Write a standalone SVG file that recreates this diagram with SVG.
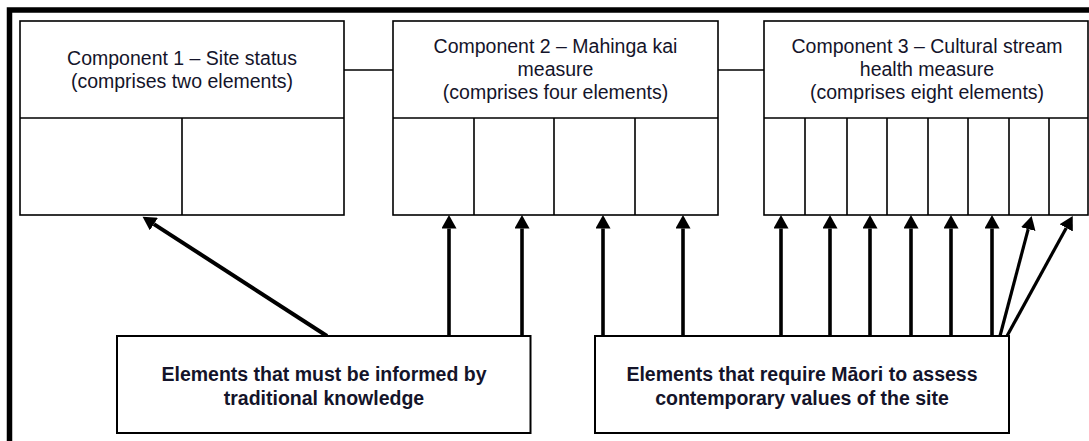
<svg xmlns="http://www.w3.org/2000/svg" width="1089" height="441" viewBox="0 0 1089 441">
  <style>
    .box { fill: #ffffff; stroke: #000000; stroke-width: 1.6; }
    .div { stroke: #000000; stroke-width: 1.6; fill: none; }
    .t { font-family: "Liberation Sans", Arial, sans-serif; font-size: 19.5px; fill: #14142a; text-anchor: middle; }
    .tb { font-family: "Liberation Sans", Arial, sans-serif; font-size: 19.5px; font-weight: bold; fill: #14142a; text-anchor: middle; }
    .arr { stroke: #000000; stroke-width: 3.6; fill: none; marker-end: url(#ah); }
    .link { stroke: #000000; stroke-width: 1.6; fill: none; }
  </style>
  <defs>
    <marker id="ah" markerUnits="userSpaceOnUse" markerWidth="14" markerHeight="15" refX="0" refY="7.5" orient="auto">
      <path d="M0,0 L13.5,7.5 L0,15 Z" fill="#000000"/>
    </marker>
  </defs>
  <rect width="1089" height="441" fill="#ffffff"/>
  <path d="M9.5,441 V10 H1089" fill="none" stroke="#000000" stroke-width="5.5"/>

  <g id="connectors">
    <path class="link" d="M344,70 H393"/>
    <path class="link" d="M718,70 H764"/>
    <path class="arr" style="stroke-width:4" d="M327,336 L153.9,224.1"/>
    <path class="arr" d="M449,336 V228.5"/>
    <path class="arr" d="M522,336 V228.5"/>
    <path class="arr" d="M603,336 V228.5"/>
    <path class="arr" d="M683,336 V228.5"/>
    <path class="arr" d="M781,336 V228.5"/>
    <path class="arr" d="M830,336 V228.5"/>
    <path class="arr" d="M870,336 V228.5"/>
    <path class="arr" d="M911,336 V228.5"/>
    <path class="arr" d="M951,336 V228.5"/>
    <path class="arr" d="M992,336 V228.5"/>
    <path class="arr" style="stroke-width:3.2" d="M1000,336 L1028.2,229.1"/>
    <path class="arr" style="stroke-width:3.2" d="M1007,336 L1066.25,227.9"/>
  </g>

  <g id="component1">
    <rect class="box" x="20" y="21" width="324" height="194"/>
    <path class="div" d="M20,118 H344 M182,118 V215"/>
    <text class="t" x="182" y="65">Component 1 – Site status</text>
    <text class="t" x="182" y="88">(comprises two elements)</text>
  </g>

  <g id="component2">
    <rect class="box" x="393" y="21" width="325" height="194"/>
    <path class="div" d="M393,118 H718 M474,118 V215 M554,118 V215 M635,118 V215"/>
    <text class="t" x="555.5" y="53">Component 2 – Mahinga kai</text>
    <text class="t" x="555.5" y="76">measure</text>
    <text class="t" x="555.5" y="99">(comprises four elements)</text>
  </g>

  <g id="component3">
    <rect class="box" x="764" y="21" width="324" height="194"/>
    <path class="div" d="M764,118 H1088 M805,118 V215 M847,118 V215 M887,118 V215 M928,118 V215 M968,118 V215 M1009,118 V215 M1049,118 V215"/>
    <text class="t" x="927" y="53">Component 3 – Cultural stream</text>
    <text class="t" x="927" y="76">health measure</text>
    <text class="t" x="927" y="99">(comprises eight elements)</text>
  </g>

  <g id="traditional">
    <rect class="box" x="117" y="336" width="413.5" height="97" style="stroke-width:2"/>
    <text class="tb" x="324" y="381">Elements that must be informed by</text>
    <text class="tb" x="324" y="405">traditional knowledge</text>
  </g>

  <g id="contemporary">
    <rect class="box" x="595" y="336" width="414" height="97" style="stroke-width:2"/>
    <text class="tb" x="802" y="381">Elements that require Māori to assess</text>
    <text class="tb" x="802" y="405">contemporary values of the site</text>
  </g>
</svg>
